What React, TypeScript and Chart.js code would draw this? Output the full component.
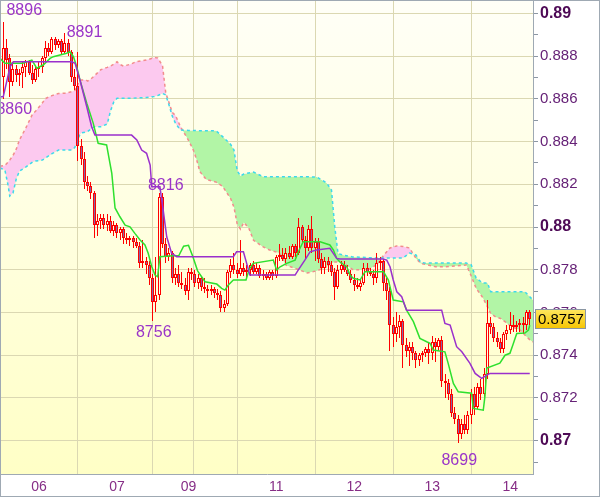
import React, { useEffect, useRef } from 'react';
import { Chart, registerables } from 'chart.js';

Chart.register(...registerables);

// ---------------- DATA (prices in pips: 8896 = 0.8896) ----------------
const opens = [
  8874, 8870, 8884, 8879, 8868, 8874, 8871, 8872, 8875, 8877,
  8872, 8869, 8874, 8875, 8879, 8884, 8882, 8888, 8885, 8887,
  8882, 8886, 8882, 8870, 8866, 8838, 8832, 8821, 8819, 8816,
  8801, 8803, 8804, 8801, 8803, 8798, 8801, 8797, 8799, 8795,
  8794, 8795, 8793, 8791, 8783, 8784, 8782, 8776, 8765, 8768,
  8814, 8792, 8786, 8788, 8776, 8778, 8774, 8773, 8770, 8779,
  8778, 8774, 8776, 8772, 8771, 8770, 8771, 8769, 8768, 8762,
  8764, 8779, 8782, 8780, 8778, 8781, 8779, 8780, 8782, 8779,
  8781, 8777, 8778, 8776, 8779, 8777, 8786, 8787, 8785, 8788,
  8786, 8791, 8788, 8800, 8794, 8790, 8799, 8790, 8793, 8785,
  8781, 8784, 8782, 8779, 8772, 8780, 8782, 8780, 8778, 8775,
  8773, 8772, 8774, 8781, 8779, 8778, 8776, 8783, 8784, 8774,
  8770, 8754, 8750, 8753, 8756, 8745, 8742, 8744, 8741, 8738,
  8740, 8741, 8743, 8741, 8746, 8744, 8747, 8728, 8727, 8722,
  8713, 8710, 8703, 8708, 8705, 8712, 8722, 8716, 8725, 8722,
  8731, 8755, 8753, 8748, 8746, 8743, 8750, 8752, 8754, 8753,
  8754, 8755, 8754, 8760,
];
const highs = [
  8880, 8896, 8888, 8881, 8877, 8876, 8874, 8877, 8878, 8878,
  8876, 8875, 8877, 8880, 8887, 8886, 8889, 8889, 8888, 8888,
  8891, 8888, 8883, 8874, 8882, 8841, 8835, 8824, 8821, 8817,
  8806, 8806, 8806, 8806, 8805, 8803, 8802, 8800, 8800, 8797,
  8796, 8796, 8795, 8793, 8794, 8786, 8784, 8778, 8786, 8816,
  8816, 8795, 8790, 8789, 8781, 8782, 8779, 8776, 8781, 8781,
  8780, 8778, 8777, 8776, 8773, 8773, 8772, 8771, 8770, 8766,
  8780, 8785, 8788, 8783, 8794, 8783, 8782, 8783, 8784, 8783,
  8782, 8780, 8779, 8780, 8780, 8787, 8792, 8790, 8790, 8791,
  8792, 8792, 8804, 8801, 8796, 8801, 8805, 8795, 8795, 8788,
  8786, 8786, 8784, 8781, 8782, 8784, 8784, 8782, 8780, 8778,
  8776, 8775, 8783, 8783, 8781, 8780, 8788, 8786, 8785, 8776,
  8772, 8758, 8760, 8759, 8757, 8748, 8746, 8746, 8742, 8741,
  8742, 8744, 8746, 8749, 8748, 8748, 8749, 8731, 8729, 8724,
  8716, 8712, 8710, 8712, 8714, 8724, 8725, 8727, 8729, 8734,
  8766, 8758, 8755, 8751, 8748, 8751, 8754, 8760, 8759, 8756,
  8757, 8758, 8761, 8761,
];
const lows = [
  8868, 8860, 8874, 8861, 8866, 8868, 8866, 8865, 8870, 8871,
  8867, 8868, 8870, 8872, 8877, 8880, 8881, 8883, 8884, 8881,
  8881, 8880, 8868, 8864, 8831, 8829, 8818, 8817, 8813, 8795,
  8796, 8799, 8799, 8798, 8797, 8796, 8795, 8794, 8792, 8792,
  8791, 8790, 8790, 8781, 8781, 8778, 8773, 8756, 8760, 8766,
  8790, 8783, 8784, 8774, 8773, 8772, 8771, 8768, 8766, 8775,
  8772, 8771, 8770, 8769, 8767, 8768, 8767, 8766, 8760, 8760,
  8763, 8776, 8778, 8776, 8777, 8777, 8776, 8777, 8778, 8778,
  8776, 8775, 8775, 8775, 8775, 8776, 8784, 8784, 8783, 8785,
  8785, 8786, 8787, 8793, 8785, 8789, 8788, 8784, 8783, 8778,
  8778, 8779, 8777, 8766, 8771, 8778, 8779, 8777, 8774, 8770,
  8771, 8770, 8773, 8777, 8777, 8773, 8774, 8780, 8770, 8766,
  8742, 8744, 8746, 8748, 8734, 8739, 8735, 8738, 8734, 8735,
  8737, 8739, 8736, 8738, 8737, 8742, 8725, 8720, 8719, 8711,
  8708, 8699, 8701, 8703, 8703, 8708, 8712, 8715, 8719, 8720,
  8729, 8750, 8746, 8744, 8741, 8741, 8747, 8750, 8751, 8751,
  8751, 8750, 8752, 8754,
];
const closes = [
  8878, 8884, 8878, 8868, 8874, 8871, 8872, 8875, 8877, 8872,
  8869, 8874, 8875, 8879, 8884, 8882, 8888, 8885, 8887, 8882,
  8886, 8882, 8870, 8866, 8838, 8832, 8821, 8819, 8816, 8801,
  8803, 8804, 8801, 8803, 8798, 8801, 8797, 8799, 8795, 8794,
  8795, 8793, 8791, 8783, 8784, 8782, 8776, 8765, 8768, 8814,
  8792, 8786, 8788, 8776, 8778, 8774, 8773, 8770, 8779, 8778,
  8774, 8776, 8772, 8771, 8770, 8771, 8769, 8768, 8762, 8764,
  8779, 8782, 8780, 8778, 8781, 8779, 8780, 8782, 8779, 8781,
  8777, 8778, 8776, 8779, 8777, 8786, 8787, 8785, 8788, 8786,
  8791, 8788, 8800, 8794, 8790, 8799, 8790, 8793, 8785, 8781,
  8784, 8782, 8779, 8772, 8780, 8782, 8780, 8778, 8775, 8773,
  8772, 8774, 8781, 8779, 8778, 8776, 8783, 8784, 8774, 8770,
  8754, 8750, 8753, 8756, 8745, 8742, 8744, 8741, 8738, 8740,
  8741, 8743, 8741, 8746, 8744, 8747, 8728, 8727, 8722, 8713,
  8710, 8703, 8708, 8705, 8712, 8722, 8716, 8725, 8722, 8731,
  8755, 8753, 8748, 8746, 8743, 8750, 8752, 8754, 8753, 8754,
  8755, 8754, 8760, 8757,
];

// Ichimoku cloud (Senkou A / Senkou B) sampled at bar indices
const cloudIdx = [
  0, 1.5, 2.5, 3, 4, 5, 6, 8, 10, 11, 13, 14, 16, 18, 20, 22, 23, 24.5, 25, 26.5,
  27, 28, 29, 31, 33, 34, 35, 36, 37, 38, 40, 42, 45, 47.5, 48.5, 50, 51, 52, 53, 54,
  55.5, 58, 59.5, 60.5, 61.5, 63.5, 66.5, 68.5, 71, 72, 73, 74, 75, 76.5, 78, 81, 83, 86, 88, 92,
  94.5, 97.5, 100.5, 102, 103, 104, 106, 108.5, 113, 116, 118, 120, 122, 124, 126, 128, 129.5, 131, 134, 137,
  143.5, 145, 146.5, 148.5, 150, 151, 152.5, 154, 156, 157.5, 160, 161.5, 163, 164,
];
const senkouA = [
  8828.5, 8828.8, 8830.4, 8831.3, 8833.5, 8836.4, 8840.8, 8846.5, 8852.8, 8854.3, 8858, 8860.1, 8861.5, 8862.5, 8862.6, 8863.3, 8863.9, 8868.2, 8868.8, 8868.8,
  8868.3, 8869.3, 8870.7, 8873.6, 8874.7, 8875.3, 8876.2, 8877.3, 8876, 8875.3, 8876.1, 8877.4, 8878.1, 8879.3, 8879.1, 8875.6, 8862.7, 8858.3, 8853.6, 8852.2,
  8847, 8840.6, 8836, 8831.5, 8825.9, 8822.2, 8821, 8819, 8813.2, 8809.2, 8801.3, 8799, 8802.1, 8799.7, 8793.8, 8790.7, 8789.2, 8787.8, 8782.1, 8780,
  8778.5, 8779.5, 8781.4, 8783.1, 8783.6, 8783.6, 8782.7, 8780.1, 8779.9, 8782.4, 8786.7, 8790.2, 8791.1, 8790.9, 8790.2, 8785.3, 8782.9, 8782.5, 8781.4, 8781.4,
  8782.2, 8777.1, 8771.3, 8767.1, 8762.6, 8759.5, 8757.9, 8757.2, 8755, 8753.3, 8751.8, 8749.5, 8747.2, 8746.2,
];
const senkouB = [
  8827.6, 8826.7, 8819.4, 8814.5, 8815.9, 8822.5, 8826.2, 8828.1, 8830.4, 8830.9, 8831.3, 8832.3, 8834.3, 8836, 8836, 8836, 8837.2, 8843, 8844, 8844.4,
  8844.7, 8845.9, 8846.9, 8846.9, 8848.2, 8854.3, 8858.5, 8860.2, 8860.2, 8860.2, 8860.2, 8860.4, 8860.6, 8861.1, 8861.5, 8862.5, 8861.8, 8857.1, 8851.9, 8848.5,
  8845.4, 8845.2, 8845.2, 8845.1, 8845.1, 8845.1, 8845, 8842.3, 8838.6, 8836, 8826.2, 8823.9, 8824.8, 8825.3, 8825.7, 8823.5, 8823.5, 8823.5, 8823.5, 8823.5,
  8823.5, 8823.4, 8820.6, 8817.3, 8800.2, 8787.6, 8786.7, 8786, 8785.7, 8785.5, 8785.5, 8785.5, 8785.5, 8785.5, 8787.8, 8786.9, 8783.4, 8783.1, 8783.1, 8783.1,
  8783.1, 8782.3, 8776.1, 8773.8, 8773.8, 8769.7, 8769.7, 8769.7, 8769.7, 8769.7, 8769.7, 8769.7, 8767.4, 8765.8,
];

// Tenkan-sen (green) and Kijun-sen (purple): [bar index, pips]
const tenkan: [number, number][] = [
  [0, 8878.9], [1.5, 8876.6], [7, 8876.6], [9.8, 8878.1], [10.2, 8877.2], [11.3, 8874.3], [13.3, 8875.8], [15.4, 8878.9],
  [16.4, 8879.7], [20.5, 8881.3], [21.5, 8882], [22.6, 8879.7], [23.6, 8875], [24.6, 8868.8], [26.7, 8857.9], [28.7, 8848.5],
  [30.2, 8839.2], [32.8, 8838.4], [34.4, 8825.1], [35.4, 8808.9], [36.9, 8804.8], [38.5, 8800.9], [40, 8800.1], [41.5, 8797],
  [43.1, 8793.9], [44.6, 8791.6], [45.6, 8787.7], [46.7, 8781.4], [47.7, 8777.5], [48.5, 8776.7], [49.2, 8786.1], [53.3, 8786.5],
  [55, 8786.5], [56.5, 8791], [58, 8791.4], [59.3, 8786.3], [60.8, 8779.5], [63.1, 8774.4], [66.7, 8773.3], [68.2, 8771.3],
  [69.2, 8770.5], [70.2, 8772.8], [71.8, 8775.2], [75.7, 8775.2], [76.6, 8779.9], [77.9, 8783], [84.1, 8784.5], [85.1, 8779.9],
  [86.2, 8781.4], [88.2, 8783], [90.8, 8784.5], [91.8, 8788.4], [93.3, 8793.1], [98.5, 8793.1], [101.5, 8791.6], [102.6, 8789.2],
  [103.6, 8785.3], [104.6, 8783.6], [106.7, 8781.4], [107.7, 8777.5], [108.7, 8776], [110.8, 8775.2], [112.3, 8779.1], [118, 8779.1],
  [119.5, 8775.2], [121, 8765.8], [124.1, 8765], [125.1, 8761.1], [127.2, 8755.7], [129.2, 8747.9], [131.3, 8746.3], [132.3, 8745.6],
  [133.3, 8742.4], [136.9, 8741.6], [137.9, 8736.2], [139.5, 8726.8], [141, 8722.9], [145.1, 8722.2], [145.6, 8715.1], [148.7, 8714.3],
  [149.2, 8720.6], [149.8, 8734], [153.8, 8736.3], [155.4, 8740], [156.9, 8740.9], [157.8, 8744.8], [159, 8750.2], [161.5, 8750.4],
  [162.6, 8751.8], [163, 8754],
];
const kijun: [number, number][] = [
  [0, 8861], [1, 8861], [3.1, 8875], [4.1, 8877.3], [22.1, 8877.3], [23.1, 8876.6], [24.6, 8868.8], [26.7, 8856.3],
  [28.2, 8846.9], [29.2, 8843], [40.5, 8843], [42.1, 8840.7], [43.6, 8836], [45.1, 8834.5], [46.2, 8829], [46.7, 8818.8],
  [49.2, 8818.8], [50.2, 8808], [51.3, 8795.4], [52.8, 8787.7], [54.4, 8786.1], [71.8, 8786.1], [72.8, 8788.4], [74.9, 8788.4],
  [75.9, 8783], [76.9, 8777.5], [90.8, 8777.5], [91.8, 8779.9], [93.8, 8784.5], [95.4, 8788.4], [97.4, 8789.2], [101.5, 8790],
  [103.6, 8785.3], [104.6, 8785], [117.9, 8785], [119, 8784.5], [120, 8781.4], [121, 8775.2], [122.1, 8769.7], [123.6, 8767.4],
  [125.1, 8761.1], [135.9, 8761.1], [136.9, 8754.9], [138.5, 8754.1], [140.5, 8744], [142.1, 8741.6], [144.6, 8736.2], [146.2, 8731.5],
  [148.2, 8729.2], [149.8, 8730.7], [150.8, 8731.5], [163, 8731.5],
];

// X axis: day boundaries (bar index) and their labels
const dayTickIdx = [12, 36, 58, 61, 85, 109, 133, 157];
const dayLabels = ['06', '07', '09', '', '11', '12', '13', '14'];
// Y axis ticks (pips)
const yTicks = [
  8690, 8700, 8710, 8720, 8730, 8740, 8750, 8760, 8770, 8780, 8790,
  8800, 8810, 8820, 8830, 8840, 8850, 8860, 8870, 8880, 8890, 8900,
];
// Marked extremes (bar index, price in pips)
const extremeIdx = [1, 20, 1, 49, 47, 141];
const extremeVals = [8896, 8891, 8860, 8816, 8756, 8699];

// ---------------- STYLE ----------------
const FONT = '"Liberation Sans", Arial, sans-serif';
const GRID = '#DBD8B2';
const FRAME = '#9FA9B3';
const RED = '#FF0000';
const BEAR_FILL = '#8466A6';
const BULL_FILL = '#FFFFE6';
const PINK = '#FCC9EF';
const GREEN_FILL = '#B2F5A6';
const X_MIN = 0.3077;
const X_MAX = 164;
const Y_MIN = 8684.42;
const Y_MAX = 8905.76;
const LABEL_OFFSETS: [number, number][] = [[21, -11], [19.5, 0], [11, 11], [6.5, -7], [1, 11.5], [1, 17.5]];

const bgPlugin = {
  id: 'bgPlugin',
  beforeDraw(chart: any) {
    const { ctx, chartArea: a, width, height } = chart;
    ctx.save();
    ctx.fillStyle = '#FFFFFF';
    ctx.fillRect(0, 0, width, height);
    const g = ctx.createLinearGradient(0, a.top, 0, a.bottom);
    g.addColorStop(0, '#FFFFF7');
    g.addColorStop(1, '#FFFFC6');
    ctx.fillStyle = g;
    ctx.fillRect(a.left, a.top, a.right - a.left, a.bottom - a.top);
    ctx.restore();
  },
};

// Snap candle elements (positioned by the x/y scales) to whole pixels for crisp rendering
const snapPlugin = {
  id: 'snapPlugin',
  afterDatasetsUpdate(chart: any) {
    chart.data.datasets.forEach((ds: any, di: number) => {
      if (ds.type !== 'bar') return;
      const meta = chart.getDatasetMeta(di);
      meta.data.forEach((el: any) => {
        el.x = Math.floor(el.x) + 0.5;
        el.y = Math.round(el.y);
        el.base = Math.round(el.base);
      });
    });
  },
};

const overlayPlugin = {
  id: 'overlayPlugin',
  afterDatasetsDraw(chart: any) {
    const { ctx, chartArea: a } = chart;
    const x = chart.scales.x;
    const y = chart.scales.y;
    ctx.save();
    ctx.beginPath();
    ctx.rect(a.left, a.top, a.right - a.left, a.bottom - a.top);
    ctx.clip();
    ctx.font = `16px ${FONT}`;
    ctx.fillStyle = '#9A35C8';
    ctx.textAlign = 'center';
    ctx.textBaseline = 'middle';
    extremeIdx.forEach((i, k) => {
      const [dx, dy] = LABEL_OFFSETS[k];
      ctx.fillText(String(extremeVals[k]), x.getPixelForValue(i) + dx, y.getPixelForValue(extremeVals[k]) + dy);
    });
    ctx.restore();
  },
  afterDraw(chart: any) {
    const { ctx, chartArea: a, width, height } = chart;
    const y = chart.scales.y;
    const last = closes[closes.length - 1];
    const py = Math.round(y.getPixelForValue(last));
    const bx = a.right + 2;
    const bw = 50;
    const bh = 19;
    ctx.save();
    const g = ctx.createLinearGradient(0, py - 9, 0, py + 10);
    g.addColorStop(0, '#FFE65C');
    g.addColorStop(1, '#F5C400');
    ctx.fillStyle = g;
    ctx.fillRect(bx + 0.5, py - 9.5, bw, bh);
    ctx.strokeStyle = '#8A96A3';
    ctx.lineWidth = 1;
    ctx.strokeRect(bx + 0.5, py - 9.5, bw, bh);
    ctx.fillStyle = '#000000';
    ctx.font = `15px ${FONT}`;
    ctx.textAlign = 'left';
    ctx.textBaseline = 'middle';
    ctx.fillText((last / 10000).toFixed(4), bx + 3, py + 0.5);
    ctx.strokeStyle = FRAME;
    ctx.strokeRect(0.5, 0.5, width - 1, height - 1);
    ctx.restore();
  },
};

export default function App() {
  const canvasRef = useRef<HTMLCanvasElement | null>(null);

  useEffect(() => {
    document.body.style.margin = '0';
    const canvas = canvasRef.current;
    if (!canvas) return;

    const wickData = highs.map((h, i) => ({ x: i, y: [lows[i], h] }));
    const bodyData = opens.map((o, i) => ({ x: i, y: [o, closes[i]] }));
    const bodyColors = opens.map((o, i) => (closes[i] >= o ? BULL_FILL : BEAR_FILL));

    const chart = new Chart(canvas, {
      type: 'bar',
      data: {
        datasets: [
          {
            type: 'line',
            label: 'Senkou A',
            data: cloudIdx.map((xv, k) => ({ x: xv, y: senkouA[k] })),
            borderColor: '#F28C8C',
            borderWidth: 1.5,
            borderDash: [3, 3],
            pointRadius: 0,
            tension: 0,
            fill: { target: '+1', above: PINK, below: GREEN_FILL },
            order: 10,
          } as any,
          {
            type: 'line',
            label: 'Senkou B',
            data: cloudIdx.map((xv, k) => ({ x: xv, y: senkouB[k] })),
            borderColor: '#3CD9EC',
            borderWidth: 1.5,
            borderDash: [3, 3],
            pointRadius: 0,
            tension: 0,
            fill: false,
            order: 9,
          } as any,
          {
            type: 'bar',
            label: 'wicks',
            data: wickData,
            backgroundColor: RED,
            borderWidth: 0,
            barThickness: 1,
            grouped: false,
            inflateAmount: 0,
            order: 5,
          } as any,
          {
            type: 'bar',
            label: 'bodies',
            data: bodyData,
            backgroundColor: bodyColors,
            borderColor: RED,
            borderWidth: 1,
            borderSkipped: false,
            barThickness: 3,
            grouped: false,
            inflateAmount: 0,
            order: 4,
          } as any,
          {
            type: 'line',
            label: 'Tenkan',
            data: tenkan.map(([xv, v]) => ({ x: xv, y: v })),
            borderColor: '#2EE02E',
            borderWidth: 1.5,
            pointRadius: 0,
            tension: 0,
            fill: false,
            order: 3,
          } as any,
          {
            type: 'line',
            label: 'Kijun',
            data: kijun.map(([xv, v]) => ({ x: xv, y: v })),
            borderColor: '#9A30CC',
            borderWidth: 1.5,
            pointRadius: 0,
            tension: 0,
            fill: false,
            order: 2,
          } as any,
        ],
      },
      options: {
        responsive: false,
        animation: false,
        devicePixelRatio: 1,
        layout: { padding: { left: 1, top: 1, right: 1, bottom: 1 } },
        plugins: { legend: { display: false }, tooltip: { enabled: false } },
        scales: {
          x: {
            type: 'linear',
            min: X_MIN,
            max: X_MAX,
            offset: false,
            afterBuildTicks: (s: any) => {
              s.ticks = dayTickIdx.map((v) => ({ value: v }));
            },
            afterFit: (s: any) => {
              s.height = 22;
              s.paddingLeft = 0;
              s.paddingRight = 0;
            },
            ticks: {
              autoSkip: false,
              maxRotation: 0,
              padding: 5,
              color: '#862E86',
              font: { family: FONT, size: 14 },
              callback: (_v: any, idx: number) => dayLabels[idx] ?? '',
            },
            grid: { color: GRID, drawTicks: false },
            border: { color: FRAME },
          },
          y: {
            type: 'linear',
            position: 'right',
            min: Y_MIN,
            max: Y_MAX,
            afterBuildTicks: (s: any) => {
              s.ticks = yTicks.map((v) => ({ value: v }));
            },
            afterFit: (s: any) => {
              s.width = 66;
              s.paddingTop = 0;
              s.paddingBottom = 0;
            },
            ticks: {
              autoSkip: false,
              padding: 2,
              callback: (v: any) => {
                const n = Number(v);
                if (n % 20 !== 0) return '';
                return n % 100 === 0 ? (n / 10000).toFixed(2) : (n / 10000).toFixed(3);
              },
              color: (c: any) => (c.tick && c.tick.value % 100 === 0 ? '#4E0A56' : '#662277'),
              font: (c: any) =>
                c.tick && c.tick.value % 100 === 0
                  ? { family: FONT, size: 16, weight: 'bold' }
                  : { family: FONT, size: 15 },
            },
            grid: {
              color: (c: any) => (c.tick && c.tick.value % 20 === 0 ? GRID : 'rgba(0,0,0,0)'),
              tickColor: '#8C97A3',
              tickLength: 5,
              drawTicks: true,
            },
            border: { color: FRAME },
          },
        },
      } as any,
      plugins: [bgPlugin, snapPlugin, overlayPlugin],
    });

    return () => chart.destroy();
  }, []);

  return (
    <div style={{ width: 600, height: 497 }}>
      <canvas ref={canvasRef} width={600} height={497} style={{ display: 'block' }} />
    </div>
  );
}
